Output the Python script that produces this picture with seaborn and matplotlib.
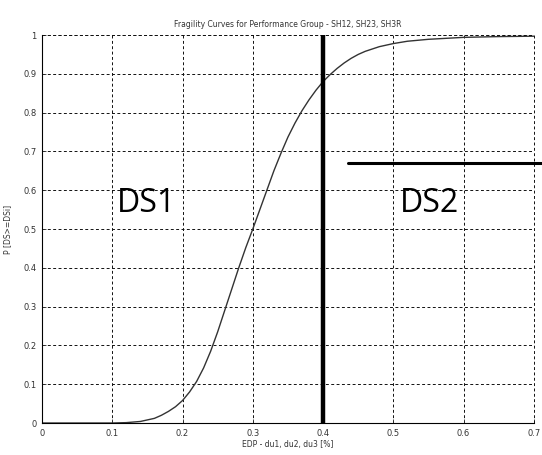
import numpy as np
import pandas as pd
import matplotlib
matplotlib.use("Agg")
import matplotlib.pyplot as plt
import seaborn as sns

# Fragility curve
edp = [0.0, 0.10, 0.12, 0.14, 0.16, 0.17, 0.18, 0.19, 0.20, 0.21, 0.22, 0.23,
       0.24, 0.25, 0.26, 0.27, 0.28, 0.29, 0.30, 0.31, 0.32, 0.33, 0.34, 0.35,
       0.36, 0.37, 0.38, 0.39, 0.40, 0.41, 0.42, 0.43, 0.44, 0.45, 0.46, 0.48,
       0.50, 0.52, 0.55, 0.58, 0.60, 0.65, 0.70]
prob = [0.0, 0.0, 0.001, 0.004, 0.012, 0.02, 0.03, 0.042, 0.058, 0.08, 0.107, 0.142,
        0.185, 0.235, 0.29, 0.345, 0.40, 0.452, 0.50, 0.55, 0.60, 0.65, 0.695, 0.737,
        0.773, 0.805, 0.833, 0.858, 0.88, 0.898, 0.914, 0.928, 0.94, 0.95, 0.958, 0.970,
        0.978, 0.984, 0.989, 0.992, 0.994, 0.996, 0.997]

xticks = [0, 0.1, 0.2, 0.3, 0.4, 0.5, 0.6, 0.7]
xticklabels = ["0", "0.1", "0.2", "0.3", "0.4", "0.5", "0.6", "0.7"]
yticks = [0, 0.1, 0.2, 0.3, 0.4, 0.5, 0.6, 0.7, 0.8, 0.9, 1.0]
yticklabels = ["0", "0.1", "0.2", "0.3", "0.4", "0.5", "0.6", "0.7", "0.8", "0.9", "1"]

# threshold lines and labels
ds_limit = 0.4
ds2_bar_y = 0.67
ds2_bar_x = [0.435, 0.712]
ds_labels = ["DS1", "DS2"]
ds_label_x = [0.149, 0.552]
ds_label_y = [0.567, 0.567]

df = pd.DataFrame({"edp": edp, "prob": prob})

sns.set_style("white")
plt.rcParams["font.family"] = ["DejaVu Sans"]

fig = plt.figure(figsize=(5.42, 4.55), dpi=100)
ax = fig.add_axes([0.0775, 0.0703, 0.9075, 0.8527])

sns.lineplot(data=df, x="edp", y="prob", ax=ax, color="#333333", linewidth=1.0)

ax.set_xlim(0, 0.7)
ax.set_ylim(0, 1)
ax.set_xticks(xticks)
ax.set_xticklabels(xticklabels)
ax.set_yticks(yticks)
ax.set_yticklabels(yticklabels)
ax.tick_params(axis="both", direction="in", length=3, width=0.6,
               labelsize=6, colors="#333333", pad=4,
               left=True, bottom=True)

dash = (0, (3, 2.5))
ax.grid(True, linestyle=dash, color="#111111", linewidth=0.7)
for s in ["top", "right"]:
    ax.spines[s].set_visible(False)
for s in ["left", "bottom"]:
    ax.spines[s].set_color("black")
    ax.spines[s].set_linewidth(0.8)

# edges drawn dashed like the grid
ax.axhline(1.0, linestyle=dash, color="#111111", linewidth=0.7, clip_on=False)
ax.axvline(0.7, linestyle=dash, color="#111111", linewidth=0.7, clip_on=False)

ax.axvline(ds_limit, color="black", linewidth=3.2)
ax.plot(ds2_bar_x, [ds2_bar_y, ds2_bar_y], color="black", linewidth=2.2, clip_on=False)

for lab, x, y in zip(ds_labels, ds_label_x, ds_label_y):
    ax.text(x, y, lab, fontsize=23, ha="center", va="center",
            family=["Open Sans", "DejaVu Sans"], color="black")

ax.set_title("Fragility Curves for Performance Group - SH12, SH23, SH3R",
             fontsize=5.5, color="#333333", pad=6)
ax.set_xlabel("EDP - du1, du2, du3 [%]", fontsize=5.5, color="#333333", labelpad=2)
ax.set_ylabel("P [DS>=DSi]", fontsize=5.5, color="#333333", labelpad=8)

fig.savefig("out.png", dpi=100, facecolor="white")
